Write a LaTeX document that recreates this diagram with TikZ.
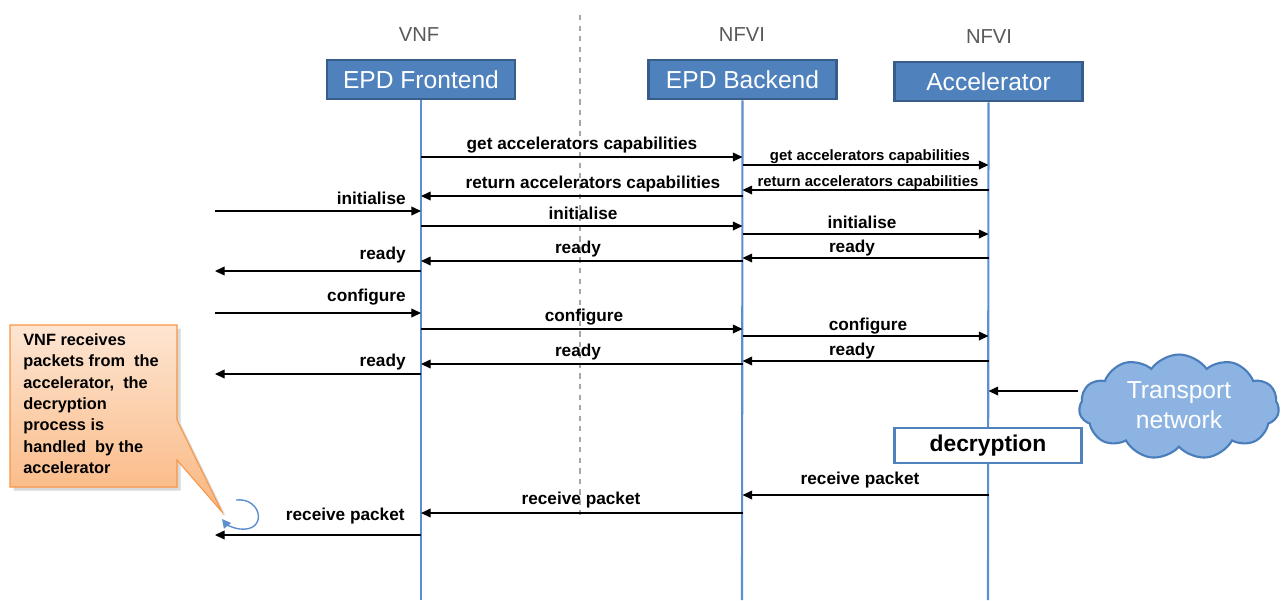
\documentclass[tikz,border=0pt]{standalone}
\usepackage{fontspec}
\setmainfont{Liberation Sans}
\usetikzlibrary{arrows.meta,shapes.symbols,shadows}
\definecolor{boxfill}{HTML}{4F81BD}
\definecolor{boxborder}{HTML}{385D8A}
\definecolor{lifec}{HTML}{5B8FD0}
\definecolor{hdrgray}{HTML}{595959}
\definecolor{cloudfill}{HTML}{8DB3E2}
\definecolor{cloudline}{HTML}{4A7EBB}
\definecolor{calltop}{HTML}{FDE5D2}
\definecolor{callbot}{HTML}{FAB780}
\definecolor{callline}{HTML}{F79646}
\begin{document}
\begin{tikzpicture}[x=0.02cm,y=-0.02cm,
  hdr/.style={font=\fontsize{11.5}{13}\selectfont, text=hdrgray},
  actor/.style={draw=boxborder, line width=1.6pt, fill=boxfill, text=white,
    minimum width=3.76cm, minimum height=0.78cm, inner sep=0pt,
    font=\fontsize{14}{16}\selectfont},
  life/.style={draw=lifec, line width=1.2pt},
  msg/.style={draw=black, line width=0.7pt, -{Triangle[length=5.5pt,width=5pt]}},
  lbl/.style={font=\bfseries\fontsize{9.8}{11}\selectfont, inner sep=0pt},
  slbl/.style={font=\bfseries\fontsize{8.5}{10}\selectfont, inner sep=0pt},
  dec/.style={draw=boxfill, line width=1.4pt, fill=white, minimum width=3.74cm,
    minimum height=0.7cm, inner sep=0pt, font=\bfseries\fontsize{13}{15}\selectfont},
]
\useasboundingbox (0,0) rectangle (1281,600);

% headers
\node[hdr] (h1) at (419,35) {VNF};
\node[hdr] (h2) at (742,35) {NFVI};
\node[hdr] (h3) at (989,37) {NFVI};

% divider
\coordinate (dvt) at (580,15);
\coordinate (dvb) at (580,515);
\draw[draw=gray!70, line width=0.8pt, dashed] (dvt) -- (dvb);

% actors
\node[actor] (fe) at (421,79.5) {EPD Frontend};
\node[actor] (be) at (742.5,79.5) {EPD Backend};
\node[actor] (ac) at (988.5,81.5) {Accelerator};

% lifelines
\coordinate (feE) at (421,600);
\coordinate (beE) at (742,600);
\coordinate (acE) at (988,600);
\draw[life] (fe.south) -- (feE);
\draw[life] (be.south) -- (beE);
\draw[life] (ac.south) -- (acE);

\coordinate (L) at (215,0);

% messages
\draw[msg] (fe.south |- 0,157) -- (be.south |- 0,157);
\node[lbl] at (582,145) {get accelerators capabilities};
\draw[msg] (be.south |- 0,165) -- (ac.south |- 0,165);
\node[slbl] at (870,157) {get accelerators capabilities};
\draw[msg] (ac.south |- 0,190) -- (be.south |- 0,190);
\node[slbl] at (868,183) {return accelerators capabilities};
\draw[msg] (be.south |- 0,196) -- (fe.south |- 0,196);
\node[lbl] at (593,184) {return accelerators capabilities};

\draw[msg] (L |- 0,211) -- (fe.south |- 0,211);
\node[lbl, anchor=east] at (406,198) {initialise};
\draw[msg] (fe.south |- 0,226) -- (be.south |- 0,226);
\node[lbl] at (583,213) {initialise};
\draw[msg] (be.south |- 0,234) -- (ac.south |- 0,234);
\node[lbl] at (862,222) {initialise};
\draw[msg] (ac.south |- 0,258) -- (be.south |- 0,258);
\node[lbl] at (852,248) {ready};
\draw[msg] (be.south |- 0,261) -- (fe.south |- 0,261);
\node[lbl] at (578,249) {ready};
\draw[msg] (fe.south |- 0,271) -- (L |- 0,271);
\node[lbl, anchor=east] at (406,255) {ready};

\draw[msg] (L |- 0,313) -- (fe.south |- 0,313);
\node[lbl, anchor=east] at (406,297) {configure};
\draw[msg] (fe.south |- 0,329) -- (be.south |- 0,329);
\node[lbl] at (584,317) {configure};
\draw[msg] (be.south |- 0,336) -- (ac.south |- 0,336);
\node[lbl] at (868,326) {configure};
\draw[msg] (ac.south |- 0,361) -- (be.south |- 0,361);
\node[lbl] at (852,351) {ready};
\draw[msg] (be.south |- 0,364) -- (fe.south |- 0,364);
\node[lbl] at (578,352) {ready};
\draw[msg] (fe.south |- 0,374) -- (L |- 0,374);
\node[lbl, anchor=east] at (406,362) {ready};

% cloud
\node[cloud, cloud puffs=11, cloud puff arc=110, aspect=2, draw=cloudline, line width=1.2pt,
  fill=cloudfill, minimum width=4.0cm, minimum height=2.1cm, inner sep=0pt] (cl) at (1179,407) {};
\node[text=white, align=center, inner sep=0pt, font=\fontsize{14}{17}\selectfont] (clt) at (cl.center) [yshift=0.04cm] {Transport\\network};
\draw[msg] (cl.west |- 0,391) -- (ac.south |- 0,391);

% decryption
\node[dec] (dc) at (988,445.5) {decryption};

\draw[msg] (ac.south |- 0,495) -- (be.south |- 0,495);
\node[lbl] at (860,480) {receive packet};
\draw[msg] (be.south |- 0,513) -- (fe.south |- 0,513);
\node[lbl] at (581,500) {receive packet};
\draw[msg] (fe.south |- 0,535) -- (L |- 0,535);
\node[lbl, anchor=east] at (405,516) {receive packet};

% callout
\path[draw=callline, line width=0.6pt, top color=calltop, bottom color=callbot,
  drop shadow={shadow xshift=2pt, shadow yshift=-2pt, opacity=0.3}]
  (10,325) -- (177,325) -- (177,420) -- (222,512) -- (177,460) -- (177,487) -- (10,487) -- cycle;
\node[anchor=north west, align=left, inner sep=0pt,
  font=\bfseries\fontsize{9.3}{12.2}\selectfont] (ct) at (23,333)
  {VNF receives\\packets from\ \ the\\accelerator,\ \ the\\decryption\\process is\\handled\ \ by the\\accelerator};

% loop arrow
\coordinate (lp1) at (236,500);
\coordinate (lp2) at (222,519);
\draw[draw=lifec, line width=0.8pt, -{Triangle[length=5pt,width=5pt]}]
  (lp1) .. controls (262,497) and (268,532) .. (240,529)
  .. controls (232,528) and (226,524) .. (lp2);
\end{tikzpicture}
\end{document}
